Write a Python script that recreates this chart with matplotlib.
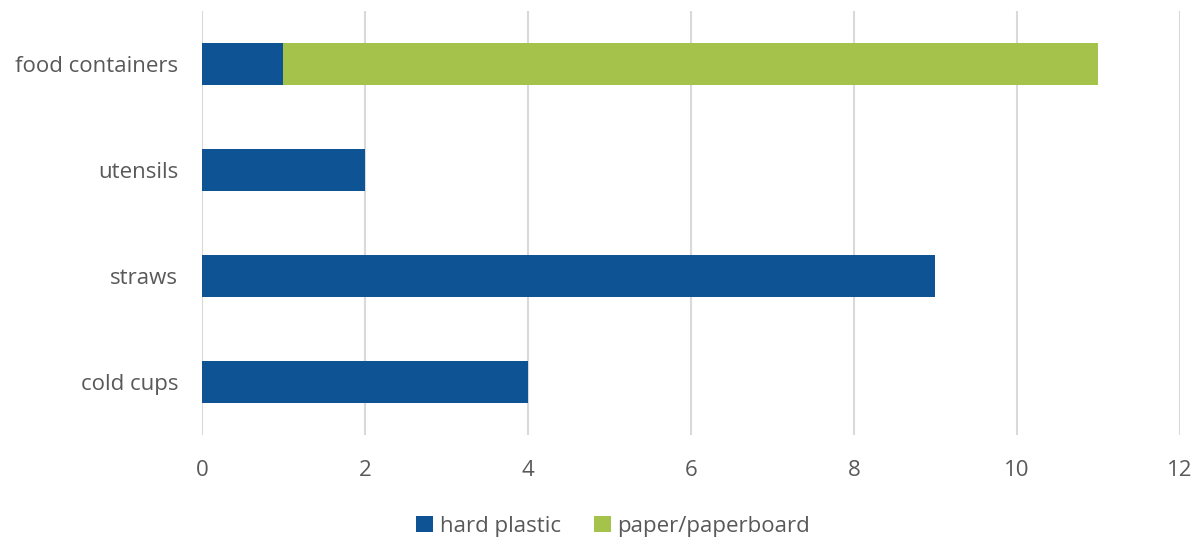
import matplotlib.pyplot as plt

categories = ["cold cups", "straws", "utensils", "food containers"]
hard_plastic = [4, 9, 2, 1]
paper = [0, 0, 0, 10]
series_names = ["hard plastic", "paper/paperboard"]

plt.rcParams['font.family'] = ['Open Sans', 'DejaVu Sans']

fig = plt.figure(figsize=(12, 5.42), dpi=100)
ax = fig.add_axes([0.1683, 0.1974, 0.815, 0.7823])

y = range(len(categories))
ax.barh(y, hard_plastic, height=0.4, color='#0E5394', label=series_names[0], zorder=3)
ax.barh(y, paper, left=hard_plastic, height=0.4, color='#A5C34A', label=series_names[1], zorder=3)

ax.set_xlim(0, 12)
ax.set_ylim(-0.5, 3.5)
ax.set_xticks(range(0, 13, 2))
ax.set_yticks(list(y))
ax.set_yticklabels(categories)
ax.grid(axis='x', color='#D9D9D9', linewidth=1.5, zorder=0)
for s in ax.spines.values():
    s.set_visible(False)
ax.tick_params(axis='both', length=0, labelsize=16, labelcolor='#595959')
ax.tick_params(axis='x', pad=18)
ax.tick_params(axis='y', pad=17)

fig.legend(loc='lower center', bbox_to_anchor=(0.511, -0.027), ncol=2, frameon=False,
           fontsize=16, labelcolor='#595959', handlelength=0.75, handleheight=0.75,
           handletextpad=0.3, columnspacing=1.5)

fig.savefig('out.png', dpi=100)
